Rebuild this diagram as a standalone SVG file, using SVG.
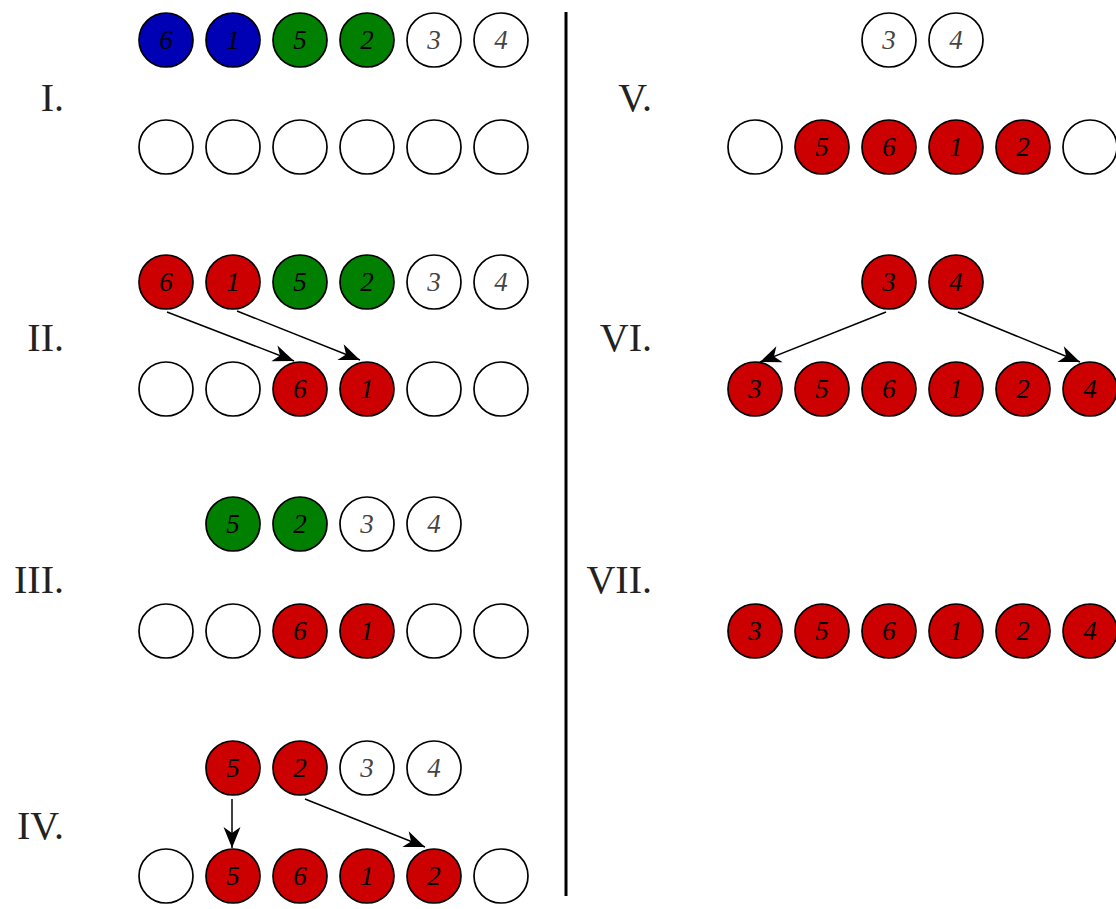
<svg xmlns="http://www.w3.org/2000/svg" width="1116" height="909" viewBox="0 0 1116 909">
<style>
.c{stroke:#000;stroke-width:1.7}
.w{fill:#fff}
.r{fill:#cc0000}
.g{fill:#007f00}
.b{fill:#0000b4}
.n{font-family:"Liberation Serif",serif;font-style:italic;font-size:27px;text-anchor:middle}
.nw{fill:#444}
.nd{fill:#000}
.lbl{font-family:"Liberation Serif",serif;font-size:40px;text-anchor:end;fill:#222}
.a{stroke:#000;stroke-width:1.5;fill:none;marker-end:url(#ah)}
</style>
<defs>
<marker id="ah" viewBox="-22 -10 23 20" markerWidth="23" markerHeight="20" refX="0" refY="0" orient="auto" markerUnits="userSpaceOnUse">
<path d="M0,0 L-21,-8.5 L-15,0 L-21,8.5 Z" fill="#000"/>
</marker>
<circle id="o" r="27"/>
</defs>
<rect width="1116" height="909" fill="#fff"/>
<line x1="566" y1="12" x2="566" y2="896" stroke="#000" stroke-width="3"/>
<g id="labels">
<text class="lbl" x="64" y="111">I.</text>
<text class="lbl" x="64" y="351">II.</text>
<text class="lbl" x="64" y="593">III.</text>
<text class="lbl" x="64" y="839">IV.</text>
<text class="lbl" x="652" y="111">V.</text>
<text class="lbl" x="652" y="351">VI.</text>
<text class="lbl" x="652" y="593">VII.</text>
</g>
<g id="step1">
<use href="#o" class="c b" x="166" y="40"/><text class="n nd" x="166" y="49">6</text>
<use href="#o" class="c b" x="233" y="40"/><text class="n nd" x="233" y="49">1</text>
<use href="#o" class="c g" x="300" y="40"/><text class="n nd" x="300" y="49">5</text>
<use href="#o" class="c g" x="367" y="40"/><text class="n nd" x="367" y="49">2</text>
<use href="#o" class="c w" x="434" y="40"/><text class="n nw" x="434" y="49">3</text>
<use href="#o" class="c w" x="501" y="40"/><text class="n nw" x="501" y="49">4</text>
<use href="#o" class="c w" x="166" y="147"/>
<use href="#o" class="c w" x="233" y="147"/>
<use href="#o" class="c w" x="300" y="147"/>
<use href="#o" class="c w" x="367" y="147"/>
<use href="#o" class="c w" x="434" y="147"/>
<use href="#o" class="c w" x="501" y="147"/>
</g>
<g id="step2">
<use href="#o" class="c r" x="166" y="282"/><text class="n nd" x="166" y="291">6</text>
<use href="#o" class="c r" x="233" y="282"/><text class="n nd" x="233" y="291">1</text>
<use href="#o" class="c g" x="300" y="282"/><text class="n nd" x="300" y="291">5</text>
<use href="#o" class="c g" x="367" y="282"/><text class="n nd" x="367" y="291">2</text>
<use href="#o" class="c w" x="434" y="282"/><text class="n nw" x="434" y="291">3</text>
<use href="#o" class="c w" x="501" y="282"/><text class="n nw" x="501" y="291">4</text>
<use href="#o" class="c w" x="166" y="389"/>
<use href="#o" class="c w" x="233" y="389"/>
<use href="#o" class="c r" x="300" y="389"/><text class="n nd" x="300" y="398">6</text>
<use href="#o" class="c r" x="367" y="389"/><text class="n nd" x="367" y="398">1</text>
<use href="#o" class="c w" x="434" y="389"/>
<use href="#o" class="c w" x="501" y="389"/>
</g>
<g id="step3">
<use href="#o" class="c g" x="233" y="524"/><text class="n nd" x="233" y="533">5</text>
<use href="#o" class="c g" x="300" y="524"/><text class="n nd" x="300" y="533">2</text>
<use href="#o" class="c w" x="367" y="524"/><text class="n nw" x="367" y="533">3</text>
<use href="#o" class="c w" x="434" y="524"/><text class="n nw" x="434" y="533">4</text>
<use href="#o" class="c w" x="166" y="631"/>
<use href="#o" class="c w" x="233" y="631"/>
<use href="#o" class="c r" x="300" y="631"/><text class="n nd" x="300" y="640">6</text>
<use href="#o" class="c r" x="367" y="631"/><text class="n nd" x="367" y="640">1</text>
<use href="#o" class="c w" x="434" y="631"/>
<use href="#o" class="c w" x="501" y="631"/>
</g>
<g id="step4">
<use href="#o" class="c r" x="233" y="768"/><text class="n nd" x="233" y="777">5</text>
<use href="#o" class="c r" x="300" y="768"/><text class="n nd" x="300" y="777">2</text>
<use href="#o" class="c w" x="367" y="768"/><text class="n nw" x="367" y="777">3</text>
<use href="#o" class="c w" x="434" y="768"/><text class="n nw" x="434" y="777">4</text>
<use href="#o" class="c w" x="166" y="876"/>
<use href="#o" class="c r" x="233" y="876"/><text class="n nd" x="233" y="885">5</text>
<use href="#o" class="c r" x="300" y="876"/><text class="n nd" x="300" y="885">6</text>
<use href="#o" class="c r" x="367" y="876"/><text class="n nd" x="367" y="885">1</text>
<use href="#o" class="c r" x="434" y="876"/><text class="n nd" x="434" y="885">2</text>
<use href="#o" class="c w" x="501" y="876"/>
</g>
<g id="step5">
<use href="#o" class="c w" x="889" y="40"/><text class="n nw" x="889" y="49">3</text>
<use href="#o" class="c w" x="956" y="40"/><text class="n nw" x="956" y="49">4</text>
<use href="#o" class="c w" x="755" y="147"/>
<use href="#o" class="c r" x="822" y="147"/><text class="n nd" x="822" y="156">5</text>
<use href="#o" class="c r" x="889" y="147"/><text class="n nd" x="889" y="156">6</text>
<use href="#o" class="c r" x="956" y="147"/><text class="n nd" x="956" y="156">1</text>
<use href="#o" class="c r" x="1023" y="147"/><text class="n nd" x="1023" y="156">2</text>
<use href="#o" class="c w" x="1090" y="147"/>
</g>
<g id="step6">
<use href="#o" class="c r" x="889" y="282"/><text class="n nd" x="889" y="291">3</text>
<use href="#o" class="c r" x="956" y="282"/><text class="n nd" x="956" y="291">4</text>
<use href="#o" class="c r" x="755" y="389"/><text class="n nd" x="755" y="398">3</text>
<use href="#o" class="c r" x="822" y="389"/><text class="n nd" x="822" y="398">5</text>
<use href="#o" class="c r" x="889" y="389"/><text class="n nd" x="889" y="398">6</text>
<use href="#o" class="c r" x="956" y="389"/><text class="n nd" x="956" y="398">1</text>
<use href="#o" class="c r" x="1023" y="389"/><text class="n nd" x="1023" y="398">2</text>
<use href="#o" class="c r" x="1090" y="389"/><text class="n nd" x="1090" y="398">4</text>
</g>
<g id="step7">
<use href="#o" class="c r" x="755" y="631"/><text class="n nd" x="755" y="640">3</text>
<use href="#o" class="c r" x="822" y="631"/><text class="n nd" x="822" y="640">5</text>
<use href="#o" class="c r" x="889" y="631"/><text class="n nd" x="889" y="640">6</text>
<use href="#o" class="c r" x="956" y="631"/><text class="n nd" x="956" y="640">1</text>
<use href="#o" class="c r" x="1023" y="631"/><text class="n nd" x="1023" y="640">2</text>
<use href="#o" class="c r" x="1090" y="631"/><text class="n nd" x="1090" y="640">4</text>
</g>
<g id="connectors">
<line class="a" x1="167" y1="312" x2="294" y2="361"/>
<line class="a" x1="237" y1="311" x2="360" y2="360"/>
<line class="a" x1="232" y1="799" x2="232" y2="848"/>
<line class="a" x1="305" y1="799" x2="425" y2="847"/>
<line class="a" x1="886" y1="312" x2="760" y2="362"/>
<line class="a" x1="958" y1="312" x2="1080" y2="362"/>
</g>
</svg>
